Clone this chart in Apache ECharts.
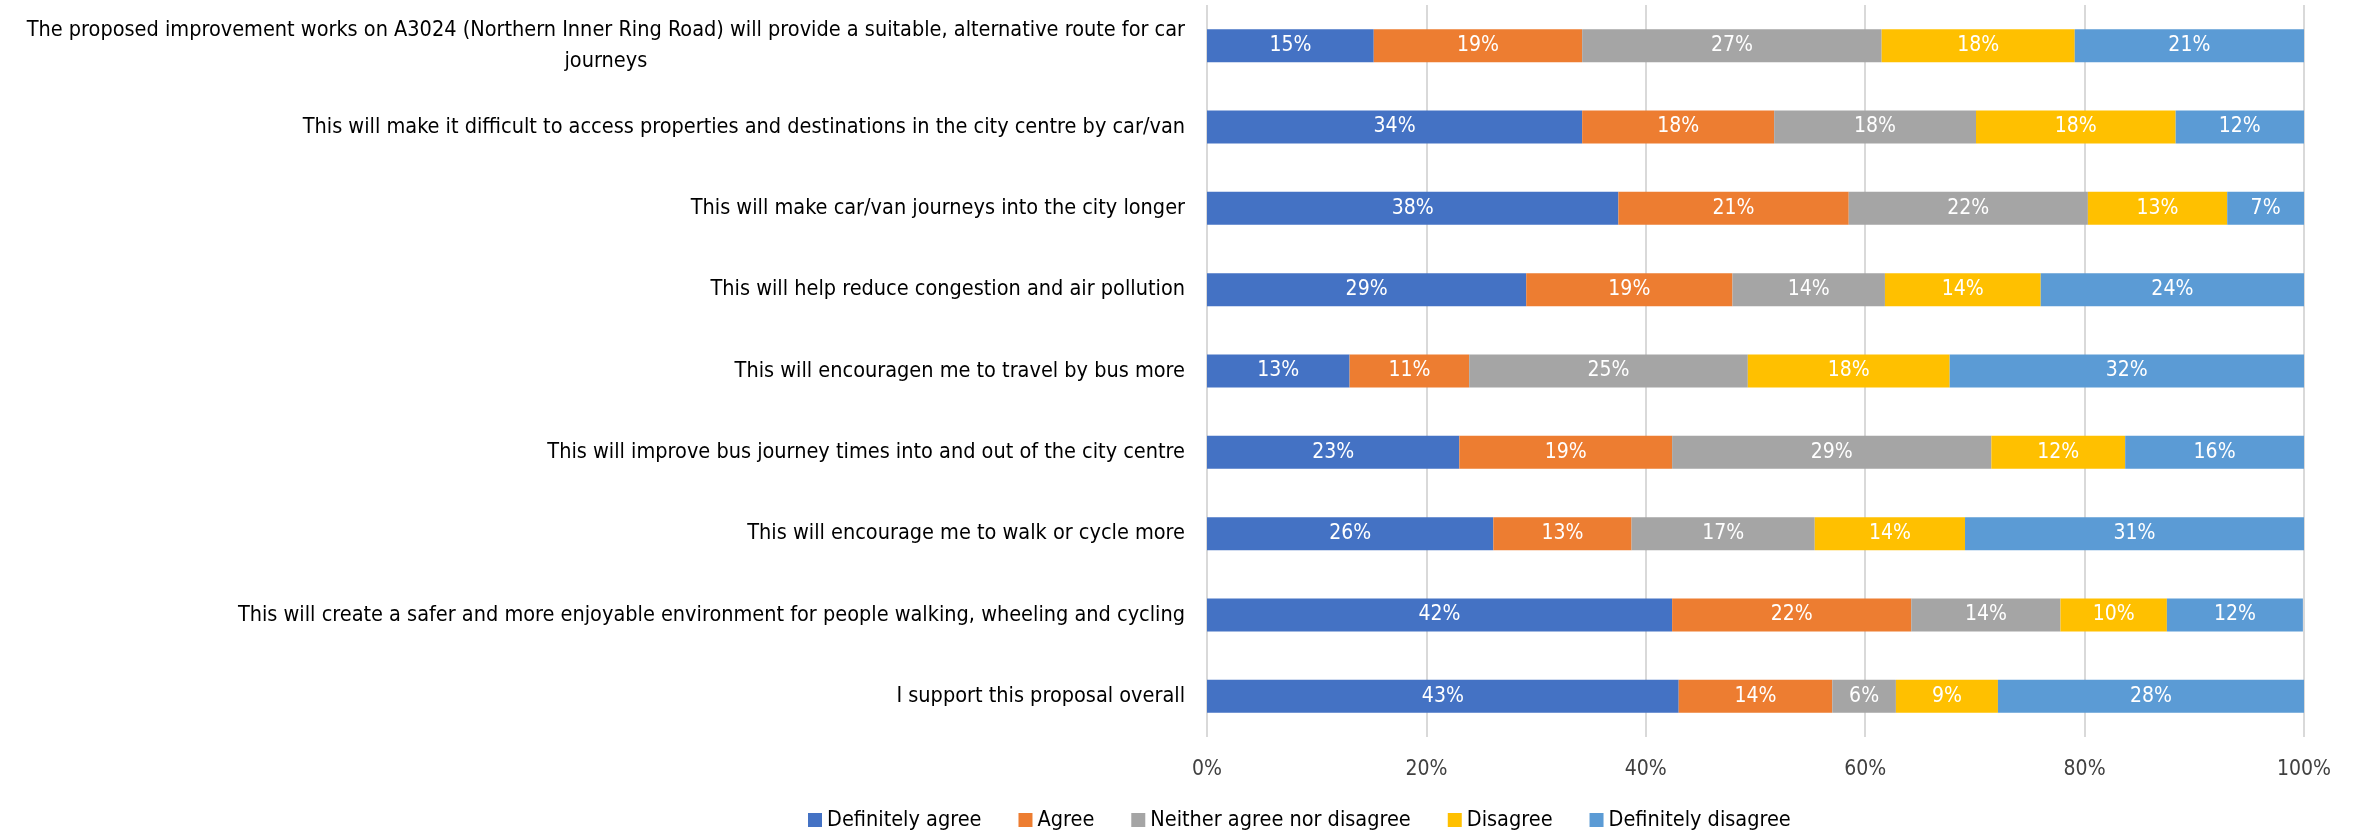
<!DOCTYPE html>
<html>
<head>
<meta charset="utf-8">
<script src="https://cdn.jsdelivr.net/npm/echarts@6/dist/echarts.min.js"></script>
<style>
html,body{margin:0;padding:0;background:#fff;}
#chart{width:2359px;height:831px;}
</style>
</head>
<body>
<div id="chart"></div>
<script>
const categories = [
  "The proposed improvement works on A3024 (Northern Inner Ring Road) will provide a suitable, alternative route for car\njourneys",
  "This will make it difficult to access properties and destinations in the city centre by car/van",
  "This will make car/van journeys into the city longer",
  "This will help reduce congestion and air pollution",
  "This will encouragen me to travel by bus more",
  "This will improve bus journey times into and out of the city centre",
  "This will encourage me to walk or cycle more",
  "This will create a safer and more enjoyable environment for people walking, wheeling and cycling",
  "I support this proposal overall"
];
const seriesNames = ["Definitely agree", "Agree", "Neither agree nor disagree", "Disagree", "Definitely disagree"];
const definitelyAgree    = [15.2, 34.2, 37.5, 29.1, 13.0, 23.0, 26.1, 42.4, 43.0];
const agree              = [19.0, 17.5, 21.0, 18.8, 10.9, 19.4, 12.6, 21.8, 14.0];
const neither            = [27.3, 18.4, 21.8, 13.9, 25.4, 29.1, 16.7, 13.6, 5.8];
const disagree           = [17.6, 18.2, 12.7, 14.2, 18.4, 12.2, 13.7, 9.7, 9.3];
const definitelyDisagree = [20.9, 11.7, 7.0, 24.0, 32.3, 16.3, 30.9, 12.4, 27.9];
const xTicks = [0, 20, 40, 60, 80, 100];

const colors = ["#4472C4", "#ED7D31", "#A5A5A5", "#FFC000", "#5B9BD5"];
const FONT = "'Liberation Sans Narrow', 'DejaVu Sans Condensed', 'Noto Sans', sans-serif";
const allSeries = [definitelyAgree, agree, neither, disagree, definitelyDisagree];

const chart = echarts.init(document.getElementById('chart'), null, {renderer: 'canvas'});
chart.setOption({
  animation: false,
  color: colors,
  textStyle: {fontFamily: FONT},
  grid: {left: 1207, right: 55, top: 5, bottom: 94, containLabel: false},
  legend: {
    data: seriesNames,
    bottom: -5,
    left: 803,
    itemWidth: 14,
    itemHeight: 14,
    itemGap: 37,
    icon: 'rect',
    textStyle: {fontFamily: FONT, fontSize: 21.5, color: '#000'}
  },
  xAxis: {
    type: 'value',
    min: xTicks[0],
    max: xTicks[xTicks.length - 1],
    interval: 20,
    axisLine: {show: false},
    axisTick: {show: false},
    splitLine: {show: true, lineStyle: {color: '#D9D9D9', width: 2}},
    axisLabel: {formatter: v => v + '%', fontFamily: FONT, fontSize: 21, color: '#404040', margin: 22}
  },
  yAxis: {
    type: 'category',
    inverse: true,
    data: categories,
    axisLine: {show: false},
    axisTick: {show: false},
    axisLabel: {
      margin: 22,
      fontFamily: FONT,
      fontSize: 21.5,
      color: '#000',
      formatter: v => v.split('\n').map(s => '{c|' + s + '}').join('\n'),
      rich: {c: {align: 'center', fontFamily: FONT, fontSize: 21.5, lineHeight: 31, color: '#000'}}
    }
  },
  series: allSeries.map((arr, i) => ({
    name: seriesNames[i],
    type: 'bar',
    stack: 'total',
    barWidth: 33,
    data: arr,
    itemStyle: {color: colors[i]},
    label: {
      show: true,
      position: 'inside',
      color: '#fff',
      fontFamily: FONT,
      fontSize: 21,
      formatter: p => Math.round(p.value) + '%'
    }
  }))
});
</script>
</body>
</html>
